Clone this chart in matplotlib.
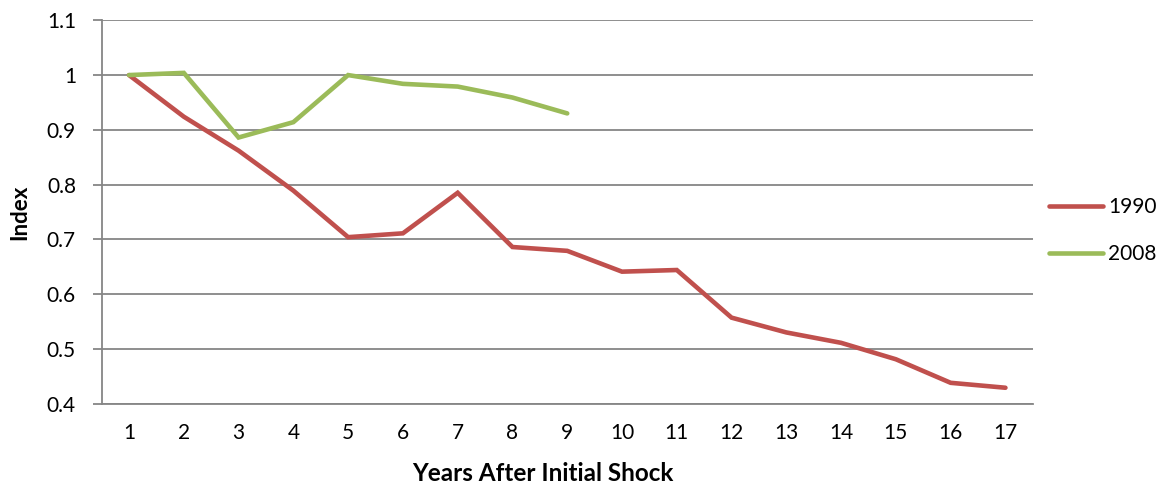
import numpy as np
import matplotlib.pyplot as plt

# index levels after the initial shock
years = list(range(1, 18))
idx_1990 = [1.0, 0.924, 0.862, 0.789, 0.704, 0.711, 0.785, 0.686, 0.679,
            0.641, 0.644, 0.557, 0.530, 0.511, 0.481, 0.438, 0.429]
idx_2008 = [1.0, 1.004, 0.886, 0.914, 1.0, 0.984, 0.979, 0.959, 0.930]

RED = '#C0504D'
GREEN = '#9BBB59'
GRID = '#868686'

plt.rcParams['font.family'] = ['Lato', 'DejaVu Sans']

fig = plt.figure(figsize=(11.71, 4.86), dpi=100)
ax = fig.add_axes([0.0868, 0.1695, 0.7952, 0.7887])

ax.plot(years, idx_1990, color=RED, lw=3.3, label='1990',
        solid_joinstyle='miter', solid_capstyle='round')
ax.plot(years[:len(idx_2008)], idx_2008, color=GREEN, lw=3.3, label='2008',
        solid_joinstyle='miter', solid_capstyle='round')

ax.set_xlim(0.5, 17.5)
ax.set_ylim(0.4, 1.1)
ax.set_xticks(years)
ax.set_xticklabels([str(y) for y in years])
yt = np.round(np.arange(0.4, 1.11, 0.1), 1)
ax.set_yticks(yt)
ax.set_yticklabels(['1' if v == 1 else f'{v:g}' for v in yt])

ax.yaxis.grid(True, color=GRID, lw=1.3)
ax.set_axisbelow(True)
for side in ['top', 'right']:
    ax.spines[side].set_visible(False)
ax.spines['left'].set_color(GRID)
ax.spines['left'].set_linewidth(1.3)
ax.spines['bottom'].set_color(GRID)
ax.spines['bottom'].set_linewidth(1.3)

ax.tick_params(axis='y', length=6.5, width=1.3, color=GRID, pad=12,
               labelsize=15)
ax.tick_params(axis='x', length=0, pad=14, labelsize=15)

ax.set_ylabel('Index', fontsize=16, fontweight='bold', labelpad=12)
ax.set_xlabel('Years After Initial Shock', fontsize=17.5, fontweight='bold')
ax.xaxis.set_label_coords(0.474, -0.152)

fig.legend(loc='center left', bbox_to_anchor=(0.8797, 0.525), frameon=False,
           fontsize=15, handlelength=2.6, handletextpad=0.25, labelspacing=1.3)

fig.savefig('out.png', dpi=100)
